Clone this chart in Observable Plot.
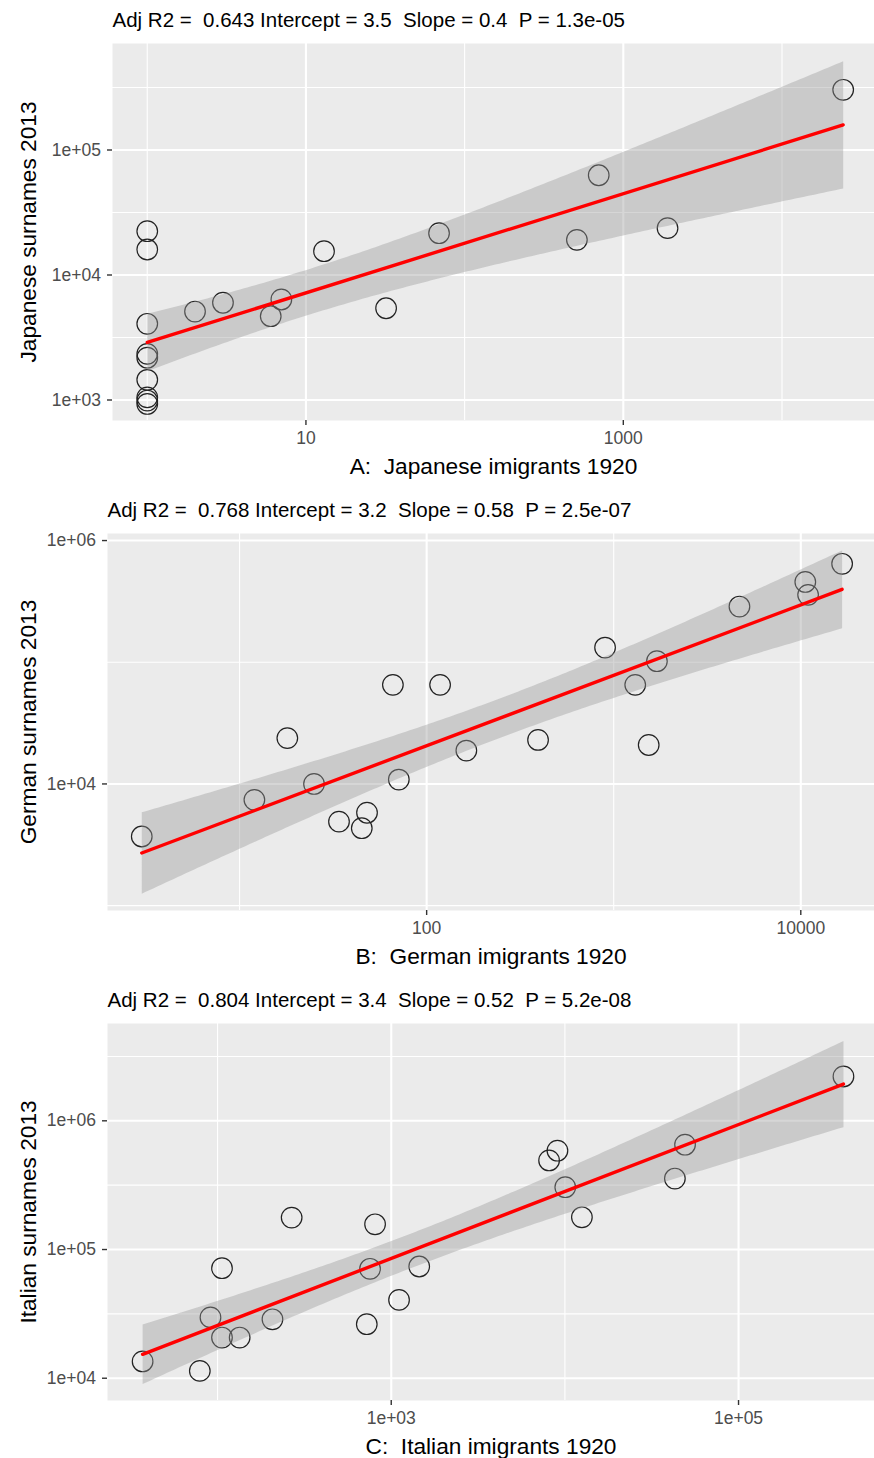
<!DOCTYPE html>
<html>
<head>
<meta charset="utf-8">
<script src="https://cdn.jsdelivr.net/npm/d3@7"></script>
<script src="https://cdn.jsdelivr.net/npm/@observablehq/plot@0.6"></script>
<style>
  body { margin: 0; background: #ffffff; }
  #chart svg { display: block; }
  svg text { white-space: pre; }
</style>
</head>
<body>
<div id="chart"></div>
<script>
// ---------- Panel A: Japanese ----------
const japaneseImmigrants1920 = [1, 1, 1, 1, 1, 1, 1, 1, 1, 2, 3, 6, 7, 13, 32, 69, 510, 700, 1900, 24300];
const japaneseSurnames2013   = [22400, 16000, 4070, 2340, 2180, 1450, 1050, 990, 930, 5100, 6000, 4680, 6370, 15500, 5420, 21600, 19100, 62800, 23700, 303000];
const japaneseXTicks = [10, 1000];
const japaneseXTickLabels = ["10", "1000"];
const japaneseYTicks = [1e3, 1e4, 1e5];
const japaneseYTickLabels = ["1e+03", "1e+04", "1e+05"];
const japaneseSubtitle = "Adj R2 =  0.643 Intercept = 3.5  Slope = 0.4  P = 1.3e-05";

// ---------- Panel B: German ----------
const germanImmigrants1920 = [3, 12, 18, 25, 34, 48, 45, 66, 71, 118, 163, 394, 899, 1303, 1538, 1702, 4700, 10570, 10940, 16630];
const germanSurnames2013   = [3700, 7400, 23800, 10000, 4900, 5800, 4330, 65200, 10860, 65200, 18800, 23000, 132000, 65200, 20900, 102000, 287000, 457000, 358000, 644000];
const germanXTicks = [100, 10000];
const germanXTickLabels = ["100", "10000"];
const germanYTicks = [1e4, 1e6];
const germanYTickLabels = ["1e+04", "1e+06"];
const germanSubtitle = "Adj R2 =  0.768 Intercept = 3.2  Slope = 0.58  P = 2.5e-07";

// ---------- Panel C: Italian ----------
const italianImmigrants1920 = [37, 79, 91, 106, 106, 134, 207, 267, 723, 755, 807, 1109, 1449, 8110, 9060, 10050, 12530, 43000, 49200, 402000];
const italianSurnames2013   = [13500, 11400, 29700, 20700, 71600, 20700, 28700, 177000, 26300, 70800, 157000, 40600, 73800, 492000, 586000, 305000, 178000, 356000, 652000, 2210000];
const italianXTicks = [1e3, 1e5];
const italianXTickLabels = ["1e+03", "1e+05"];
const italianYTicks = [1e4, 1e5, 1e6];
const italianYTickLabels = ["1e+04", "1e+05", "1e+06"];
const italianSubtitle = "Adj R2 =  0.804 Intercept = 3.4  Slope = 0.52  P = 5.2e-08";

const FONT = "'Liberation Sans', Arial, Helvetica, sans-serif";

function minorBreaks(major, domain) {
  const step = major.length > 1 ? major[1] - major[0] : 1;
  const ext = [major[0] - step, ...major, major[major.length - 1] + step];
  const out = [];
  for (let i = 0; i < ext.length - 1; i++) {
    const m = (ext[i] + ext[i + 1]) / 2;
    if (m >= domain[0] && m <= domain[1]) out.push(m);
  }
  return out;
}

function panel(cfg) {
  const data = cfg.x.map((x, i) => ({lx: Math.log10(x), ly: Math.log10(cfg.y[i])}));
  const xMaj = cfg.xTicks.map(Math.log10);
  const yMaj = cfg.yTicks.map(Math.log10);
  const xMin = minorBreaks(xMaj, cfg.xDomain);
  const yMin = minorBreaks(yMaj, cfg.yDomain);
  const fmt = (ticks, labels) => d => labels[ticks.findIndex(t => Math.abs(t - d) < 1e-9)];
  const plotTop = 43, plotH = 377;
  return Plot.plot({
    width: 874,
    height: cfg.height,
    marginLeft: cfg.marginLeft,
    marginRight: 0,
    marginTop: plotTop,
    marginBottom: cfg.height - plotTop - plotH,
    x: {type: "linear", domain: cfg.xDomain, axis: null},
    y: {type: "linear", domain: cfg.yDomain, axis: null},
    style: {fontFamily: FONT, fontSize: "17.5px", background: "#ffffff", color: "#000000"},
    marks: [
      Plot.frame({fill: "#EBEBEB", stroke: "none"}),
      Plot.ruleX(xMin, {stroke: "#ffffff", strokeWidth: 1.1}),
      Plot.ruleY(yMin, {stroke: "#ffffff", strokeWidth: 1.1}),
      Plot.ruleX(xMaj, {stroke: "#ffffff", strokeWidth: 2.1}),
      Plot.ruleY(yMaj, {stroke: "#ffffff", strokeWidth: 2.1}),
      Plot.axisX({ticks: xMaj, tickFormat: fmt(xMaj, cfg.xLabels), tickSize: 5, tickPadding: 6,
        stroke: "#333333", strokeWidth: 1.4, fill: "#4D4D4D", label: null}),
      Plot.axisY({ticks: yMaj, tickFormat: fmt(yMaj, cfg.yLabels), tickSize: 5, tickPadding: 6.5,
        stroke: "#333333", strokeWidth: 1.4, fill: "#4D4D4D", label: null}),
      Plot.dot(data, {x: "lx", y: "ly", r: 10.3, stroke: "#222222", strokeWidth: 1.2, fill: "none"}),
      Plot.linearRegressionY(data, {x: "lx", y: "ly", stroke: "#FF0000", strokeWidth: 3.4,
        fill: "#999999", fillOpacity: 0.4, ci: 0.95}),
      Plot.text([cfg.subtitle], {text: d => d, frameAnchor: "top-left", textAnchor: "start",
        lineAnchor: "bottom", dy: -17, fontSize: 20.5, fill: "#000000"}),
      Plot.text([cfg.xTitle], {text: d => d, frameAnchor: "bottom", textAnchor: "middle", lineAnchor: "bottom",
        dy: 53, fontSize: 22.7, fill: "#000000"}),
      Plot.text([cfg.yTitle], {text: d => d, frameAnchor: "left", textAnchor: "middle", rotate: -90,
        lineAnchor: "bottom", dx: 35 - cfg.marginLeft, fontSize: 22.7, fill: "#000000"})
    ]
  });
}

const chart = document.getElementById("chart");
chart.append(panel({
  x: japaneseImmigrants1920, y: japaneseSurnames2013,
  xTicks: japaneseXTicks, xLabels: japaneseXTickLabels,
  yTicks: japaneseYTicks, yLabels: japaneseYTickLabels,
  xDomain: [-0.219, 4.583], yDomain: [2.836, 5.852],
  height: 490, marginLeft: 112,
  subtitle: japaneseSubtitle,
  xTitle: "A:  Japanese imigrants 1920",
  yTitle: "Japanese surnames 2013"
}));
chart.append(panel({
  x: germanImmigrants1920, y: germanSurnames2013,
  xTicks: germanXTicks, xLabels: germanXTickLabels,
  yTicks: germanYTicks, yLabels: germanYTickLabels,
  xDomain: [0.294, 4.394], yDomain: [2.960, 6.058],
  height: 490, marginLeft: 107,
  subtitle: germanSubtitle,
  xTitle: "B:  German imigrants 1920",
  yTitle: "German surnames 2013"
}));
chart.append(panel({
  x: italianImmigrants1920, y: italianSurnames2013,
  xTicks: italianXTicks, xLabels: italianXTickLabels,
  yTicks: italianYTicks, yLabels: italianYTickLabels,
  xDomain: [1.366, 5.783], yDomain: [3.827, 6.756],
  height: 478, marginLeft: 107,
  subtitle: italianSubtitle,
  xTitle: "C:  Italian imigrants 1920",
  yTitle: "Italian surnames 2013"
}));
</script>
</body>
</html>
